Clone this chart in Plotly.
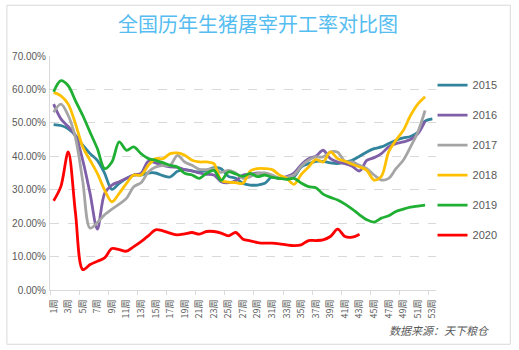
import plotly.graph_objects as go

weeks = list(range(1, 54))
tick_weeks = list(range(1, 54, 2))
tick_labels = [f"{w}周" for w in tick_weeks]

y2015 = [49.5, 49.2, 48.2, 46.2, 43.3, 40.8, 38.8, 34.9, 30.1, 31.9, 33.4, 34.4, 34.4, 35.0, 35.0, 34.2, 33.8, 35.5,
         36.0, 35.6, 35.3, 35.8, 36.6, 36.3, 34.0, 33.4, 31.9, 31.4, 31.4, 31.9, 33.9, 33.4, 33.4, 33.9, 36.8, 37.8,
         38.5, 38.5, 38.0, 37.8, 38.2, 38.8, 40.0, 41.3, 42.3, 42.8, 43.8, 44.8, 45.5, 45.9, 47.2, 50.5, 51.2]
y2016 = [55.6, 51.2, 48.9, 46.2, 38.8, 28.9, 18.2, 28.9, 31.4, 32.4, 33.4, 34.4, 34.9, 38.5, 38.0, 37.3, 36.8, 36.7,
         36.0, 35.6, 35.0, 34.6, 34.4, 32.4, 32.1, 32.7, 34.4, 34.6, 35.0, 34.6, 33.9, 33.4, 33.9, 35.0, 37.5, 39.3,
         40.0, 41.8, 39.3, 38.3, 37.8, 37.0, 35.6, 38.8, 39.6, 40.8, 42.8, 43.8, 44.3, 45.0, 46.7, 50.5]
y2017 = [53.2, 55.6, 52.2, 45.5, 32.5, 18.5, 20.2, 22.5, 24.2, 25.7, 27.4, 30.9, 32.1, 35.3, 36.8, 37.3, 37.3, 40.3,
         38.3, 37.3, 36.1, 36.0, 36.3, 35.2, 35.8, 35.0, 33.4, 33.9, 34.9, 35.0, 34.4, 33.4, 33.7, 34.4, 37.0, 38.8,
         39.8, 39.8, 41.3, 41.2, 38.5, 38.3, 37.3, 36.3, 34.4, 32.9, 33.4, 36.3, 38.8, 42.8, 47.2, 53.7]
y2018 = [59.1, 58.1, 55.6, 49.7, 42.8, 38.8, 34.9, 29.9, 26.4, 28.9, 31.9, 34.4, 34.4, 37.3, 39.3, 39.3, 40.8, 41.0,
         40.3, 38.8, 38.3, 38.3, 37.8, 32.8, 32.3, 32.1, 31.9, 35.6, 36.3, 36.3, 36.0, 34.4, 33.4, 31.6, 34.6, 36.8,
         39.0, 38.3, 41.3, 39.3, 38.5, 37.6, 36.8, 35.8, 32.9, 34.0, 41.3, 44.8, 47.7, 52.2, 55.6, 57.8]
y2019 = [59.3, 62.6, 61.1, 56.6, 52.2, 47.2, 42.3, 36.3, 38.3, 44.3, 41.8, 42.8, 40.8, 39.3, 38.8, 38.1, 37.3, 36.8,
         34.9, 34.4, 33.4, 34.9, 35.8, 32.8, 35.3, 34.7, 34.0, 34.9, 33.9, 34.4, 33.7, 33.4, 33.1, 33.4, 32.0, 30.9,
         30.6, 28.7, 27.7, 26.9, 25.7, 24.2, 22.5, 21.0, 20.3, 21.5, 22.2, 23.5, 24.2, 24.8, 25.1, 25.4]
y2020 = [26.7, 31.0, 41.3, 23.0, 6.1, 7.6, 8.6, 9.6, 12.4, 12.1, 11.6, 13.0, 14.5, 16.2, 18.0, 17.7, 17.0, 16.5,
         16.8, 17.2, 16.7, 17.5, 17.5, 17.0, 16.2, 17.2, 15.2, 14.7, 14.2, 14.0, 14.0, 13.8, 13.5, 13.3, 13.5, 14.8,
         14.8, 15.0, 16.0, 18.2, 16.0, 15.8, 16.7]

series = [
    ("2015", y2015, "#31849B"),
    ("2016", y2016, "#7F60A8"),
    ("2017", y2017, "#A5A5A5"),
    ("2018", y2018, "#FFC000"),
    ("2019", y2019, "#1FAF32"),
    ("2020", y2020, "#FF0000"),
]

fig = go.Figure()
for name, vals, color in series:
    fig.add_trace(go.Scatter(
        x=weeks[:len(vals)], y=vals, name=name, mode="lines",
        line=dict(color=color, width=2.8, shape="spline", smoothing=0.9),
        legendgroup=name,
    ))

W, H = 519, 350
ml, mr, mt, mb = 47, 82.5, 55.5, 59.5
pw, ph = W - ml - mr, H - mt - mb

def px_x(x):
    return (x - ml) / pw

def px_y(y):
    return (H - mb - y) / ph

fig.update_layout(
    width=W, height=H,
    margin=dict(l=ml, r=mr, t=mt, b=mb),
    paper_bgcolor="white", plot_bgcolor="white",
    font=dict(family="Liberation Sans, Arial, Noto Sans CJK SC", color="#595959"),
    title=dict(text="全国历年生猪屠宰开工率对比图", x=0.497, xanchor="center", y=1 - 25 / H, yanchor="middle",
               font=dict(family="Noto Sans CJK SC", size=20, color="#55BDF0")),
    showlegend=True,
    legend=dict(x=px_x(433), xanchor="left", y=px_y(160), yanchor="middle",
                font=dict(size=11, color="#595959"), tracegroupgap=11,
                bgcolor="rgba(0,0,0,0)"),
    xaxis=dict(range=[0.5, 53.5], tickmode="array", tickvals=tick_weeks, ticktext=tick_labels,
               tickangle=-90, tickfont=dict(family="Noto Sans CJK SC", size=9, color="#595959"),
               ticks="", showgrid=False, zeroline=False, showline=True, linecolor="#D9D9D9", linewidth=1,
               ticklabelstandoff=5,
               minor=dict(tickmode="linear", tick0=0.5, dtick=4, ticks="outside", ticklen=4,
                          tickcolor="#D9D9D9", showgrid=False)),
    yaxis=dict(range=[0, 70], tickmode="linear", tick0=0, dtick=10, tickformat=".2f", ticksuffix="%",
               tickfont=dict(size=10, color="#595959"), showgrid=True, gridcolor="#D9D9D9",
               griddash="dash", gridwidth=1, zeroline=False, showline=True, linecolor="#D9D9D9",
               linewidth=1, ticks="", ticklabelstandoff=1),
    shapes=[dict(type="rect", xref="paper", yref="paper",
                 x0=px_x(3.5), x1=px_x(511.5), y0=px_y(345), y1=px_y(4.5),
                 line=dict(color="#D9D9D9", width=1), fillcolor="rgba(0,0,0,0)", layer="below")],
    annotations=[dict(text="<i>数据来源：天下粮仓</i>", xref="paper", yref="paper",
                      x=px_x(492), xanchor="right", y=px_y(331), yanchor="middle", showarrow=False,
                      font=dict(family="Noto Sans CJK SC", size=11, color="#595959"))],
)

fig.write_html("out.html")
